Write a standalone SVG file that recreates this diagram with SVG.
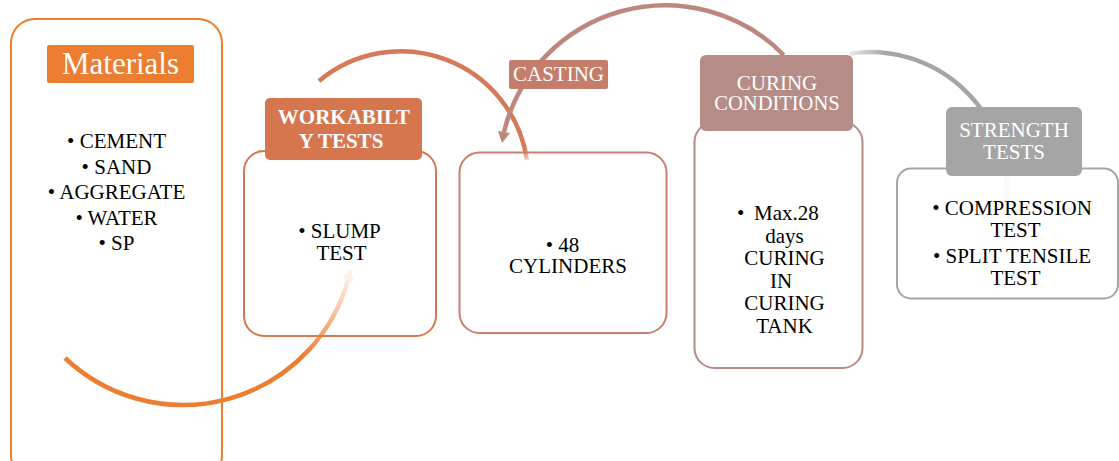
<svg xmlns="http://www.w3.org/2000/svg" width="1119" height="461" viewBox="0 0 1119 461">
<style>
.body{fill:#fff;stroke-width:2}
text{font-family:'Liberation Serif','DejaVu Serif',serif;font-size:21px}
.t{fill:#000;text-anchor:middle}
.h{fill:#fff;text-anchor:middle}
.arc{fill:none;stroke-width:4.5}
</style>
<defs>
<linearGradient id="g1" gradientUnits="userSpaceOnUse" x1="300" y1="355" x2="350" y2="275">
<stop offset="0" stop-color="#ED7D31" stop-opacity="1"/>
<stop offset="1" stop-color="#ED7D31" stop-opacity="0.1"/>
</linearGradient>
<linearGradient id="g2" gradientUnits="userSpaceOnUse" x1="505" y1="120" x2="528" y2="162">
<stop offset="0" stop-color="#D6795A" stop-opacity="1"/>
<stop offset="0.75" stop-color="#D6795A" stop-opacity="1"/>
<stop offset="1" stop-color="#D6795A" stop-opacity="0.15"/>
</linearGradient>
<linearGradient id="g4" gradientUnits="userSpaceOnUse" x1="850" y1="53" x2="1007" y2="200">
<stop offset="0" stop-color="#A5A5A5" stop-opacity="0.25"/>
<stop offset="0.12" stop-color="#A5A5A5" stop-opacity="1"/>
<stop offset="0.6" stop-color="#A5A5A5" stop-opacity="1"/>
<stop offset="0.75" stop-color="#A5A5A5" stop-opacity="0.15"/>
<stop offset="1" stop-color="#A5A5A5" stop-opacity="0.05"/>
</linearGradient>
</defs>

<g id="materials-body"><rect class="body" x="11" y="19" width="211" height="460" rx="24" stroke="#ED7D31"/></g>
<g id="workability-body"><rect class="body" x="244" y="151" width="192" height="185" rx="20" stroke="#D6784F"/></g>
<g id="cylinders-body"><rect class="body" x="459.5" y="152.5" width="207" height="180.5" rx="20" stroke="#C97F6D"/></g>
<g id="curing-body"><rect class="body" x="694.5" y="122" width="168" height="246" rx="20" stroke="#B68A85"/></g>
<g id="strength-body"><rect class="body" x="897" y="168.5" width="221" height="130" rx="14" stroke="#A5A5A5"/></g>

<g id="connectors">
<path class="arc" d="M65,358 A171.5,171.5 0 0 0 348,280" stroke="url(#g1)"/>
<polygon points="351,269 353.5,281.5 343,278.5" fill="#ED7D31" fill-opacity="0.12"/>
<path class="arc" stroke-width="4" d="M319,81 A127.5,127.5 0 0 1 527,160" stroke="url(#g2)"/>
<path class="arc" stroke-width="4" d="M783.7,55 A166,166 0 0 0 504,132" stroke="#BD877D"/>
<polygon points="502,143 510,133 498,131" fill="#BD877D"/>
<path class="arc" stroke-width="4" d="M850,53.5 A137,137 0 0 1 1006,205" stroke="url(#g4)"/>
</g>

<g id="materials">
<rect x="47" y="45" width="147" height="38" rx="2" fill="#ED7D31"/>
<text class="h" x="120.5" y="73.5" style="font-size:31px">Materials</text>
<text class="t" x="116.5" y="148">• CEMENT</text>
<text class="t" x="116.5" y="173.5">• SAND</text>
<text class="t" x="116.5" y="199">• AGGREGATE</text>
<text class="t" x="116.5" y="224.5">• WATER</text>
<text class="t" x="116.5" y="250">• SP</text>
</g>

<g id="workability">
<rect x="265" y="98" width="157" height="62" rx="5" fill="#D5764F"/>
<text class="h" x="344" y="124" font-weight="bold">WORKABILT</text>
<text class="h" x="341" y="148" font-weight="bold">Y TESTS</text>
<text class="t" x="339.5" y="238">• SLUMP</text>
<text class="t" x="341.5" y="260">TEST</text>
</g>

<g id="casting">
<rect x="509" y="60" width="99" height="29" rx="2" fill="#C47D6B"/>
<text class="h" x="558.5" y="81">CASTING</text>
<text class="t" x="562.5" y="252">• 48</text>
<text class="t" x="568" y="273">CYLINDERS</text>
</g>

<g id="curing">
<rect x="700" y="55" width="153" height="76" rx="6" fill="#B68C87"/>
<text class="h" x="777" y="90">CURING</text>
<text class="h" x="777" y="110" style="font-size:20.5px">CONDITIONS</text>
<text class="t" x="737" y="220" style="text-anchor:start">•</text>
<text class="t" x="754" y="220" style="text-anchor:start">Max.28</text>
<text class="t" x="784.5" y="242.5">days</text>
<text class="t" x="784.5" y="265">CURING</text>
<text class="t" x="781" y="287.5">IN</text>
<text class="t" x="784.5" y="310">CURING</text>
<text class="t" x="784.5" y="332.5">TANK</text>
</g>

<g id="strength">
<rect x="946" y="107" width="136" height="69" rx="6" fill="#A5A5A5"/>
<text class="h" x="1014" y="137">STRENGTH</text>
<text class="h" x="1014" y="159">TESTS</text>
<text class="t" x="1012" y="215">• COMPRESSION</text>
<text class="t" x="1015.5" y="237">TEST</text>
<text class="t" x="1012" y="263">• SPLIT TENSILE</text>
<text class="t" x="1015.5" y="285">TEST</text>
</g>
</svg>
